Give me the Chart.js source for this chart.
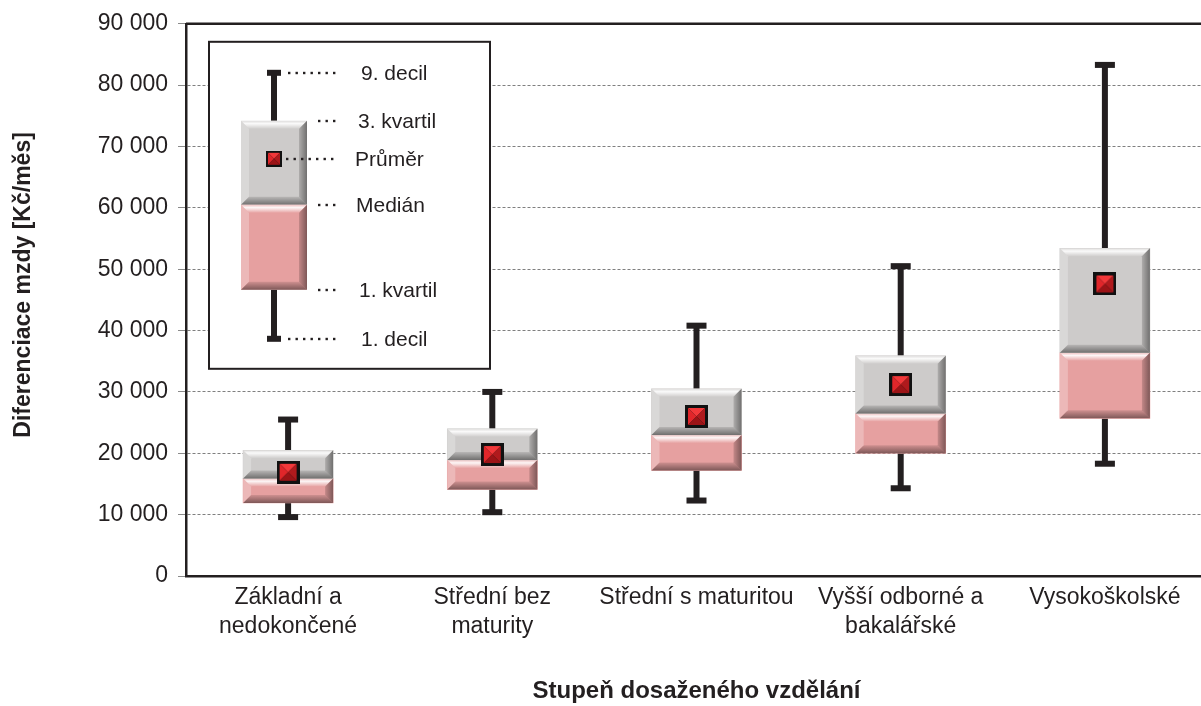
<!DOCTYPE html>
<html>
<head>
<meta charset="utf-8">
<script src="https://cdn.jsdelivr.net/npm/chart.js@4.4.1/dist/chart.umd.min.js"></script>
<style>
  html, body { margin: 0; padding: 0; background: #fff; overflow: hidden; }
  #graf { display: block; }
</style>
</head>
<body>
<canvas id="graf" width="1212" height="706" style="width:1212px;height:706px"></canvas>
<script>
// --- DATA ---
const kategorie = [
    ['Základní a', 'nedokončené'],
    ['Střední bez', 'maturity'],
    'Střední s maturitou',
    ['Vyšší odborné a', 'bakalářské'],
    'Vysokoškolské'
];
const decil1   = [9600, 10400, 12300, 14300, 18300];
const kvartil1 = [11900, 14100, 17200, 20000, 25700];
const median   = [15900, 18900, 23000, 26500, 36400];
const kvartil3 = [20500, 24000, 30500, 35900, 53400];
const decil9   = [25500, 30000, 40800, 50500, 83300];
const prumer   = [16900, 19800, 26000, 31200, 47600];

const popiskyLegendy = ['9. decil', '3. kvartil', 'Průměr', 'Medián', '1. kvartil', '1. decil'];
const titulekY = 'Diferenciace mzdy [Kč/měs]';

const FONT = "'Liberation Sans', Arial, sans-serif";
const CERNA = '#231f20';
const SEDA = '#cdcbca';
const RUZOVA = '#e6a0a0';

const format = (v) => v.toString().replace(/\B(?=(\d{3})+(?!\d))/g, ' ');

// znacka prumeru (cerny ctverec s cervenou pyramidou)
function znacka(size) {
    const c = document.createElement('canvas');
    c.width = size; c.height = size;
    const g = c.getContext('2d');
    const b = Math.round(size * 0.15);
    g.fillStyle = '#111';
    g.fillRect(0, 0, size, size);
    const l = b, t = b, r = size - b, bt = size - b;
    const cx = size / 2, cy = size / 2;
    const tri = (pts, col) => {
        g.beginPath();
        g.moveTo(pts[0][0], pts[0][1]);
        pts.slice(1).forEach(p => g.lineTo(p[0], p[1]));
        g.closePath();
        g.fillStyle = col;
        g.fill();
    };
    tri([[l, t], [r, t], [cx, cy]], '#f2383a');
    tri([[l, t], [l, bt], [cx, cy]], '#e0262a');
    tri([[r, t], [r, bt], [cx, cy]], '#b01a1d');
    tri([[l, bt], [r, bt], [cx, cy]], '#9c1417');
    return c;
}
const znackaGraf = znacka(23);
const znackaLegenda = znacka(16);

function kvadr(ctx, l, t, r, b, barva) {
    ctx.save();
    ctx.fillStyle = barva;
    ctx.fillRect(l, t, r - l, b - t);
    const d = Math.min(8, (b - t) / 3);
    const poly = (pts, fill) => {
        ctx.beginPath();
        ctx.moveTo(pts[0][0], pts[0][1]);
        pts.slice(1).forEach(p => ctx.lineTo(p[0], p[1]));
        ctx.closePath();
        ctx.fillStyle = fill;
        ctx.fill();
    };
    let gr = ctx.createLinearGradient(0, t, 0, t + d);
    gr.addColorStop(0, 'rgba(255,255,255,0.35)');
    gr.addColorStop(0.35, 'rgba(255,255,255,0.9)');
    gr.addColorStop(1, 'rgba(255,255,255,0.05)');
    poly([[l, t], [r, t], [r - d, t + d], [l + d, t + d]], gr);
    poly([[l, t], [l + d, t + d], [l + d, b - d], [l, b]], 'rgba(255,255,255,0.25)');
    gr = ctx.createLinearGradient(r - d, 0, r, 0);
    gr.addColorStop(0, 'rgba(0,0,0,0.15)');
    gr.addColorStop(1, 'rgba(0,0,0,0.45)');
    poly([[r, t], [r, b], [r - d, b - d], [r - d, t + d]], gr);
    gr = ctx.createLinearGradient(0, b - d, 0, b);
    gr.addColorStop(0, 'rgba(0,0,0,0.1)');
    gr.addColorStop(1, 'rgba(0,0,0,0.45)');
    poly([[l, b], [r, b], [r - d, b - d], [l + d, b - d]], gr);
    ctx.restore();
}

function fous(ctx, x, y1, y2, yCap, capW) {
    ctx.save();
    ctx.strokeStyle = CERNA;
    ctx.lineWidth = 6;
    ctx.beginPath();
    ctx.moveTo(x, y1);
    ctx.lineTo(x, y2);
    ctx.stroke();
    ctx.fillStyle = CERNA;
    ctx.fillRect(x - capW / 2, yCap - 3, capW, 6);
    ctx.restore();
}

// fousy pod krabicemi
const fousyPlugin = {
    id: 'fousy',
    beforeDatasetsDraw(chart) {
        const ctx = chart.ctx;
        const xs = chart.scales.x, ys = chart.scales.y;
        kategorie.forEach((k, i) => {
            const x = xs.getPixelForValue(i);
            fous(ctx, x, ys.getPixelForValue(decil9[i]), ys.getPixelForValue(kvartil3[i]), ys.getPixelForValue(decil9[i]), 20);
            fous(ctx, x, ys.getPixelForValue(kvartil1[i]), ys.getPixelForValue(decil1[i]), ys.getPixelForValue(decil1[i]), 20);
        });
    }
};

// 3D efekt na sloupcich
const bevelPlugin = {
    id: 'bevel',
    afterDatasetDraw(chart, args) {
        const ds = chart.data.datasets[args.index];
        if (ds.type !== 'bar') return;
        const ctx = chart.ctx;
        args.meta.data.forEach(el => {
            const p = el.getProps(['x', 'y', 'base', 'width'], true);
            const t = Math.min(p.y, p.base), b = Math.max(p.y, p.base);
            kvadr(ctx, p.x - p.width / 2, t, p.x + p.width / 2, b, ds.backgroundColor);
        });
    }
};

// ramecek grafu, titulek osy y a vysvetlivky
const ramecekPlugin = {
    id: 'ramecek',
    afterDraw(chart) {
        const ctx = chart.ctx;
        const a = chart.chartArea;
        ctx.save();
        ctx.strokeStyle = CERNA;
        ctx.lineWidth = 2.5;
        ctx.beginPath();
        ctx.moveTo(a.left, a.top);
        ctx.lineTo(a.right, a.top);
        ctx.stroke();

        // titulek osy y (v originale trochu nad stredem)
        ctx.save();
        ctx.translate(24, (a.top + a.bottom) / 2 - 15);
        ctx.rotate(-Math.PI / 2);
        ctx.font = 'bold 23px ' + FONT;
        ctx.fillStyle = CERNA;
        ctx.textAlign = 'center';
        ctx.textBaseline = 'middle';
        ctx.fillText(titulekY, 0, 0);
        ctx.restore();

        // vysvetlivky
        const L = a.left + 23, T = a.top + 18;
        ctx.fillStyle = '#fff';
        ctx.fillRect(L, T, 281, 327);
        ctx.lineWidth = 2;
        ctx.strokeRect(L, T, 281, 327);

        const cx = L + 65;
        const yD9 = T + 31, yQ3 = T + 79, yP = T + 117, yM = T + 163, yQ1 = T + 248, yD1 = T + 297;
        fous(ctx, cx, yD9, yQ3, yD9, 14);
        fous(ctx, cx, yQ1, yD1, yD1, 14);
        kvadr(ctx, cx - 33, yQ3, cx + 33, yM, SEDA);
        kvadr(ctx, cx - 33, yM, cx + 33, yQ1, RUZOVA);
        ctx.drawImage(znackaLegenda, cx - 8, yP - 8);

        const tecky = (x1, x2, y) => {
            ctx.fillStyle = CERNA;
            for (let x = x1; x <= x2; x += 7.5) {
                ctx.fillRect(x - 1, y - 1, 2.4, 2.4);
            }
        };
        tecky(L + 80, L + 128, yD9);
        tecky(L + 110, L + 126, yQ3);
        tecky(L + 78, L + 126, yP);
        tecky(L + 110, L + 126, yM);
        tecky(L + 110, L + 126, yQ1);
        tecky(L + 80, L + 128, yD1);

        ctx.font = '21px ' + FONT;
        ctx.fillStyle = CERNA;
        ctx.textBaseline = 'middle';
        ctx.textAlign = 'left';
        const xt = [L + 152, L + 149, L + 146, L + 147, L + 150, L + 152];
        [yD9, yQ3, yP, yM, yQ1, yD1].forEach((y, i) => {
            ctx.fillText(popiskyLegendy[i], xt[i], y + 1);
        });
        ctx.restore();
    }
};

new Chart(document.getElementById('graf'), {
    data: {
        labels: kategorie,
        datasets: [
            {
                type: 'line',
                label: 'Průměr',
                data: prumer,
                showLine: false,
                pointStyle: znackaGraf,
                order: 0
            },
            {
                type: 'bar',
                label: 'Medián - 3. kvartil',
                data: median.map((m, i) => [m, kvartil3[i]]),
                backgroundColor: SEDA,
                barThickness: 90,
                grouped: false,
                order: 1
            },
            {
                type: 'bar',
                label: '1. kvartil - Medián',
                data: kvartil1.map((q, i) => [q, median[i]]),
                backgroundColor: RUZOVA,
                barThickness: 90,
                grouped: false,
                order: 2
            }
        ]
    },
    options: {
        responsive: false,
        animation: false,
        devicePixelRatio: 1,
        layout: { padding: { top: 23, right: 4, left: 0, bottom: 0 } },
        plugins: {
            legend: { display: false },
            tooltip: { enabled: false }
        },
        scales: {
            x: {
                grid: { display: false, drawTicks: false },
                border: { color: CERNA, width: 2.5 },
                ticks: {
                    color: CERNA,
                    font: { family: FONT, size: 23, lineHeight: 1.26 },
                    padding: 7,
                    maxRotation: 0,
                    autoSkip: false
                },
                title: {
                    display: true,
                    text: 'Stupeň dosaženého vzdělání',
                    color: CERNA,
                    font: { family: FONT, size: 24, weight: 'bold' },
                    padding: { top: 0, bottom: 0 }
                },
                afterFit(s) { s.height = 130; }
            },
            y: {
                min: 0,
                max: 90000,
                ticks: {
                    stepSize: 10000,
                    color: CERNA,
                    font: { family: FONT, size: 23 },
                    padding: 10,
                    callback: (v) => format(v)
                },
                grid: {
                    color: '#7f7f7f',
                    lineWidth: 1,
                    tickColor: '#8a8a8a',
                    tickLength: 8,
                    tickBorderDash: []
                },
                border: { color: CERNA, width: 2.5, dash: [3, 2] },
                title: { display: false },
                afterFit(s) { s.width = 186; }
            }
        }
    },
    plugins: [fousyPlugin, bevelPlugin, ramecekPlugin]
});
</script>
</body>
</html>
